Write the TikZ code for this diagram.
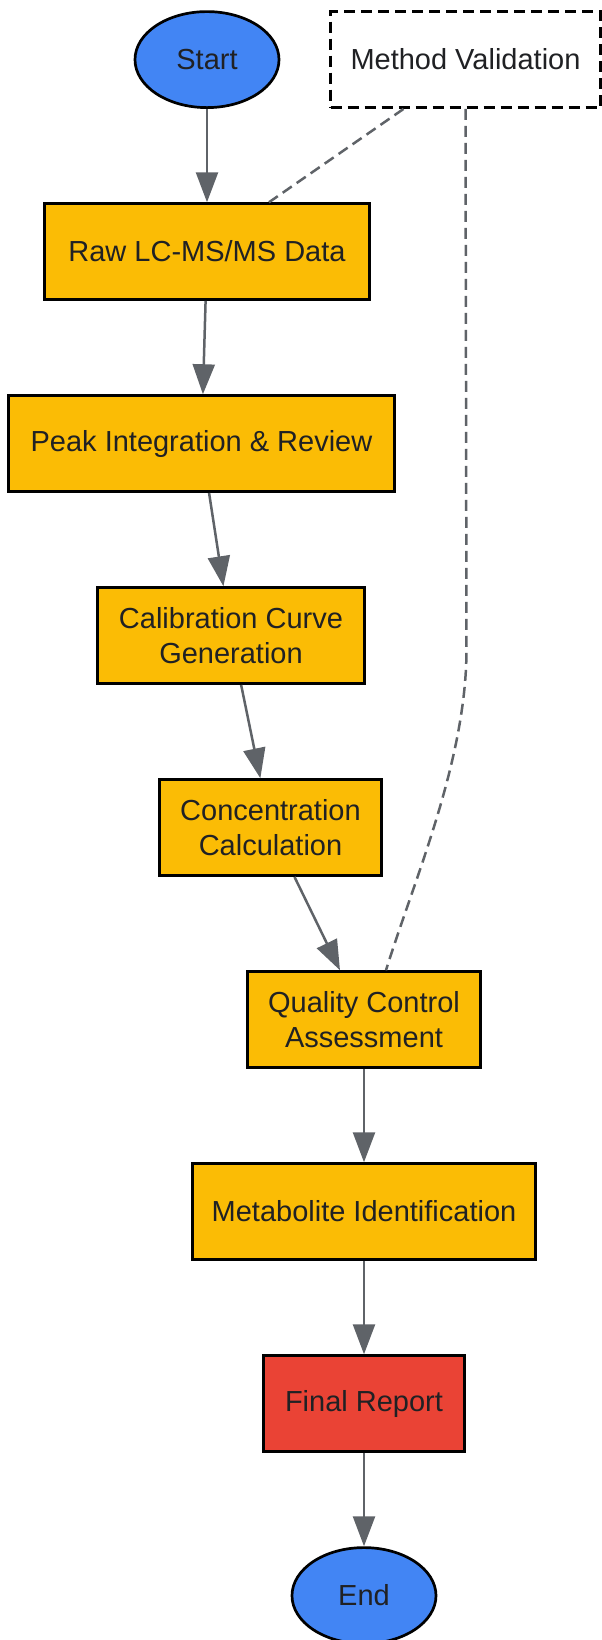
\documentclass[tikz,border=0pt]{standalone}
\usepackage{fontspec}
\setmainfont{Liberation Sans}
\usetikzlibrary{positioning, shapes.geometric, arrows.meta}
\definecolor{gblue}{HTML}{4285F4}
\definecolor{gyellow}{HTML}{FBBC05}
\definecolor{gred}{HTML}{EA4335}
\definecolor{edgegray}{HTML}{5F6368}
\definecolor{textgray}{HTML}{202124}
\tikzstyle{startstop} = [ellipse, minimum width = 72pt, minimum height = 48pt, 
	inner sep = 0pt, fill = gblue, line width = 1.35pt, draw = black]
\tikzstyle{process} = [rectangle, minimum height = 48pt, 
	text centered, align = center, fill = gyellow, line width = 1.35pt, draw = black]
\tikzstyle{report} = [process, fill = gred]
\tikzstyle{note} = [rectangle, minimum height = 48pt, fill = white, 
	line width = 1.35pt, dash pattern = on 5.5pt off 3pt, draw = black]
\tikzstyle{arrow} = [line width = 1.25pt, draw = edgegray, ->]
\tikzstyle{link} = [line width = 1.25pt, draw = edgegray, dash pattern = on 5.5pt off 3pt]

\begin{document}
\begin{tikzpicture}[node distance = 96pt, text = textgray, 
	font = \fontsize{14.5}{17.8}\selectfont, 
	>={Triangle[length = 15pt, width = 11pt]}]

\useasboundingbox (0,0) rectangle (300.5pt,-820pt);

\node (start) [startstop] at (103.5pt,-29.8pt) {Start};

\node (valid) [note, minimum width = 135pt, 
	node distance = 129.25pt, right of = start] {Method Validation};

\node (raw) [process, minimum width = 162.5pt, below of = start] 
	{Raw LC-MS/MS Data};

\node (peak) [process, minimum width = 193pt, below of = raw, xshift = -2.75pt] 
	{Peak Integration \& Review};

\node (calib) [process, minimum width = 133.5pt, below of = peak, xshift = 14.75pt] 
	{Calibration Curve\\Generation};

\node (conc) [process, minimum width = 111pt, below of = calib, xshift = 19.75pt] 
	{Concentration\\Calculation};

\node (qc) [process, minimum width = 116.5pt, below of = conc, xshift = 46.75pt] 
	{Quality Control\\Assessment};

\node (metab) [process, minimum width = 171.5pt, below of = qc] 
	{Metabolite Identification};

\node (final) [report, minimum width = 100.5pt, below of = metab] 
	{Final Report};

\node (end) [startstop, below of = final] {End};

\draw [arrow] (start) -- (raw);
\draw [arrow] (raw) -- (peak);
\draw [arrow] (peak) -- (calib);
\draw [arrow] (calib) -- (conc);
\draw [arrow] (conc) -- (qc);
\draw [arrow] (qc) -- (metab);
\draw [arrow] (metab) -- (final);
\draw [arrow] (final) -- (end);

\draw [link] ([xshift = -31pt]valid.south) -- ([xshift = 31pt]raw.north);
\draw [link] (valid.south) -- ++(0.5pt,-270pt) coordinate (bend)
	.. controls ++(0,-56pt) and (207pt,-440pt) .. ([xshift = 11pt]qc.north);
\end{tikzpicture}
\end{document}
